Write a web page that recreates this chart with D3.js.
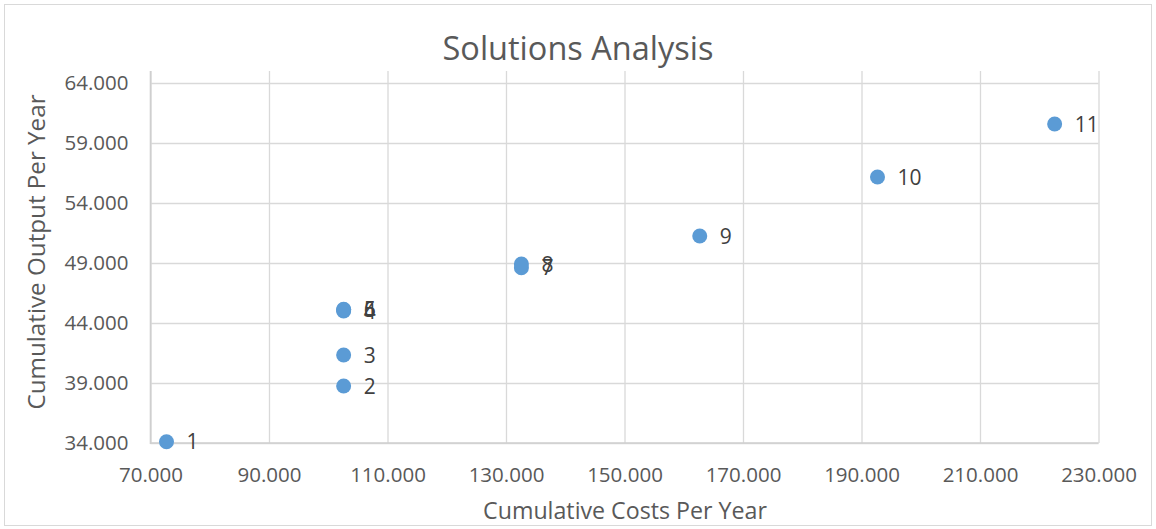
<!DOCTYPE html>
<html>
<head>
<meta charset="utf-8">
<script src="https://cdn.jsdelivr.net/npm/d3@7"></script>
<style>
  html, body { margin: 0; padding: 0; background: #fff; }
  svg text { font-family: "Open Sans", "Noto Sans", sans-serif; }
</style>
</head>
<body>
<svg id="chart" width="1156" height="529"></svg>
<script>
// Solution number, yearly cost and yearly output for each candidate solution
const solutionIds = ["1", "2", "3", "4", "5", "6", "7", "8", "9", "10", "11"];
const costsPerYear = [72.7, 102.6, 102.6, 102.6, 102.6, 102.6, 132.6, 132.6, 162.7, 192.7, 222.6];
const outputPerYear = [34.1, 38.75, 41.33, 45.0, 45.1, 45.15, 48.6, 48.92, 51.25, 56.17, 60.58];

const xTicks = [70, 90, 110, 130, 150, 170, 190, 210, 230];
const yTicks = [34, 39, 44, 49, 54, 59, 64];

const title = "Solutions Analysis";
const xTitle = "Cumulative Costs Per Year";
const yTitle = "Cumulative Output Per Year";

const W = 1156, H = 529;
const plot = { left: 150.5, right: 1098.5, top: 71, bottom: 443 };

const svg = d3.select("#chart");

// chart frame
svg.append("rect")
  .attr("x", 4.5).attr("y", 4.5)
  .attr("width", W - 9).attr("height", H - 8)
  .attr("fill", "#fff").attr("stroke", "#d9d9d9").attr("stroke-width", 1);

const x = d3.scaleLinear().domain([70, 230]).range([plot.left, plot.right]);
const y = d3.scaleLinear().domain([34, 65]).range([plot.bottom, plot.top]);

// vertical gridlines
svg.append("g")
  .attr("transform", `translate(0,${plot.bottom})`)
  .call(d3.axisBottom(x).tickValues(xTicks).tickSize(-(plot.bottom - plot.top)).tickFormat(""))
  .call(g => g.select(".domain").remove())
  .call(g => g.selectAll(".tick line").attr("stroke", "#d9d9d9").attr("stroke-width", 1.3));

// horizontal gridlines
svg.append("g")
  .attr("transform", `translate(${plot.left},0)`)
  .call(d3.axisLeft(y).tickValues(yTicks).tickSize(-(plot.right - plot.left)).tickFormat(""))
  .call(g => g.select(".domain").remove())
  .call(g => g.selectAll(".tick line").attr("stroke", "#d9d9d9").attr("stroke-width", 1.3));

// axis lines
svg.append("line")
  .attr("x1", plot.left).attr("x2", plot.left)
  .attr("y1", plot.top).attr("y2", plot.bottom + 1)
  .attr("stroke", "#cfcfcf").attr("stroke-width", 1.6);
svg.append("line")
  .attr("x1", plot.left).attr("x2", plot.right)
  .attr("y1", plot.bottom).attr("y2", plot.bottom)
  .attr("stroke", "#cfcfcf").attr("stroke-width", 1.6);

// tick labels
const xAxis = svg.append("g")
  .attr("transform", `translate(0,${plot.bottom})`)
  .call(d3.axisBottom(x).tickValues(xTicks).tickSize(0).tickPadding(24).tickFormat(d3.format(".3f")))
  .call(g => g.select(".domain").remove());
xAxis.selectAll("text")
  .attr("fill", "#595959").attr("font-size", 20.5)
  .style("font-family", "'Open Sans', sans-serif");

const yAxis = svg.append("g")
  .attr("transform", `translate(${plot.left},0)`)
  .call(d3.axisLeft(y).tickValues(yTicks).tickSize(0).tickPadding(22).tickFormat(d3.format(".3f")))
  .call(g => g.select(".domain").remove());
yAxis.selectAll("text")
  .attr("fill", "#595959").attr("font-size", 20.5)
  .style("font-family", "'Open Sans', sans-serif");

// titles
svg.append("text")
  .attr("x", 578).attr("y", 60)
  .attr("text-anchor", "middle")
  .attr("fill", "#595959").attr("font-size", 32.5)
  .text(title);

svg.append("text")
  .attr("x", 625).attr("y", 519)
  .attr("text-anchor", "middle")
  .attr("fill", "#595959").attr("font-size", 23.2)
  .text(xTitle);

svg.append("text")
  .attr("transform", `translate(45,${(plot.top + plot.bottom) / 2 - 5}) rotate(-90)`)
  .attr("text-anchor", "middle")
  .attr("fill", "#595959").attr("font-size", 24.2)
  .text(yTitle);

// data points and their labels
const pts = solutionIds.map((id, i) => ({ id, cost: costsPerYear[i], out: outputPerYear[i] }));

svg.append("g").selectAll("circle")
  .data(pts).join("circle")
  .attr("cx", d => x(d.cost))
  .attr("cy", d => y(d.out))
  .attr("r", 7.5)
  .attr("fill", "#5b9bd5");

svg.append("g").selectAll("text")
  .data(pts).join("text")
  .attr("x", d => x(d.cost) + 20)
  .attr("y", d => y(d.out))
  .attr("dy", "0.36em")
  .attr("fill", "#404040").attr("font-size", 21)
  .text(d => d.id);
</script>
</body>
</html>
